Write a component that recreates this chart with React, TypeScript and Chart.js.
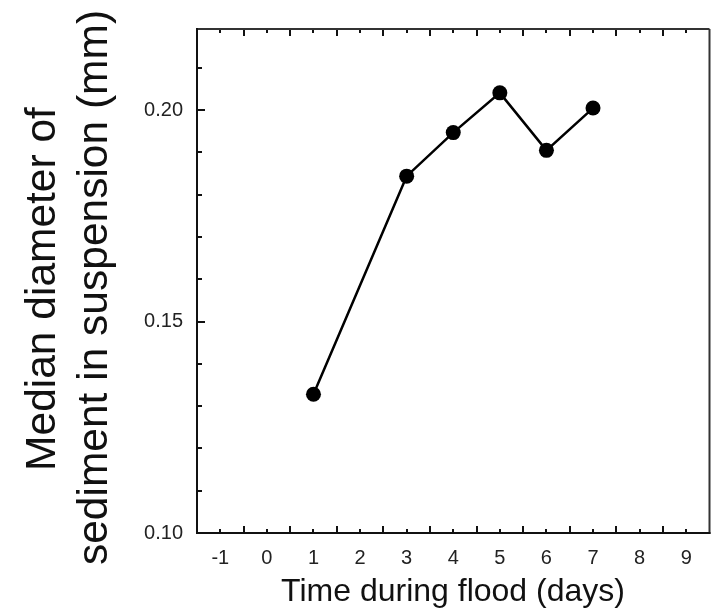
import React, { useEffect, useRef } from "react";
import { Chart, registerables } from "chart.js";

Chart.register(...registerables);

// ---- data ----
const days = [1, 3, 4, 5, 6, 7];
const medianDiameter = [0.1328, 0.1844, 0.1947, 0.2041, 0.1905, 0.2005];

// ---- axes ----
const xTickLabels = [-1, 0, 1, 2, 3, 4, 5, 6, 7, 8, 9];
const xHalfTicks = [-0.5, 0.5, 1.5, 2.5, 3.5, 4.5, 5.5, 6.5, 7.5, 8.5];
const yTickLabels = [0.1, 0.15, 0.2];
const yMinorTicks = [0.11, 0.12, 0.13, 0.14, 0.16, 0.17, 0.18, 0.19, 0.21];
const xMin = -1.5;
const xMax = 9.5;
const yMin = 0.1;
const yMax = 0.2192;

const xAxisTitle = "Time during flood (days)";
const yAxisTitleLines = ["Median diameter of", "sediment in suspension (mm)"];

const FONT = "'Liberation Sans', Arial, Helvetica, sans-serif";

const framePlugin = {
  id: "frameAndTitles",
  beforeDatasetsDraw(chart: any) {
    const { ctx, chartArea, scales } = chart;
    const { left, right, top, bottom } = chartArea;
    const x = scales.x;
    const y = scales.y;
    ctx.save();
    ctx.strokeStyle = "#111";
    ctx.lineWidth = 2;
    const seg = (x1: number, y1: number, x2: number, y2: number) => {
      ctx.beginPath();
      ctx.moveTo(x1, y1);
      ctx.lineTo(x2, y2);
      ctx.stroke();
    };
    for (const v of xTickLabels) {
      const px = Math.round(x.getPixelForValue(v));
      seg(px, bottom, px, bottom - 4);
      seg(px, top, px, top + 4);
    }
    for (const v of xHalfTicks) {
      const px = Math.round(x.getPixelForValue(v));
      seg(px, bottom, px, bottom - 7);
      seg(px, top, px, top + 7);
    }
    for (const v of yTickLabels) {
      const py = Math.round(y.getPixelForValue(v));
      seg(left, py, left + 8, py);
    }
    for (const v of yMinorTicks) {
      const py = Math.round(y.getPixelForValue(v));
      seg(left, py, left + 5, py);
    }
    ctx.strokeStyle = "#333";
    seg(left, top, right, top);
    seg(right, top, right, bottom + 1);
    ctx.strokeStyle = "#111";
    seg(left, top - 1, left, bottom + 1);
    seg(left - 1, bottom, right + 1, bottom);
    ctx.restore();
  },
  afterDraw(chart: any) {
    const { ctx } = chart;
    ctx.save();
    ctx.fillStyle = "#111";
    ctx.font = `32px ${FONT}`;
    ctx.textAlign = "center";
    ctx.textBaseline = "alphabetic";
    ctx.fillText(xAxisTitle, 453, 601);
    ctx.font = `42.5px ${FONT}`;
    const baselines = [54.5, 107];
    const centers = [289, 287.5];
    yAxisTitleLines.forEach((line, i) => {
      ctx.save();
      ctx.translate(baselines[i], centers[i]);
      ctx.rotate(-Math.PI / 2);
      ctx.fillText(line, 0, 0);
      ctx.restore();
    });
    ctx.restore();
  },
};

export default function App() {
  const canvasRef = useRef<HTMLCanvasElement | null>(null);

  useEffect(() => {
    const canvas = canvasRef.current;
    if (!canvas) return;
    const chart = new Chart(canvas, {
      type: "line",
      data: {
        datasets: [
          {
            data: days.map((d, i) => ({ x: d, y: medianDiameter[i] })),
            borderColor: "#000",
            backgroundColor: "#000",
            borderWidth: 2.5,
            pointRadius: 7.5,
            pointBackgroundColor: "#000",
            pointBorderColor: "#000",
            pointBorderWidth: 0,
            tension: 0,
            fill: false,
          },
        ],
      },
      options: {
        responsive: false,
        animation: false,
        devicePixelRatio: 1,
        layout: { padding: { top: 29, right: 2, left: 0, bottom: 0 } },
        plugins: {
          legend: { display: false },
          tooltip: { enabled: false },
          title: { display: false },
        },
        scales: {
          x: {
            type: "linear",
            min: xMin,
            max: xMax,
            afterBuildTicks: (scale: any) => {
              scale.ticks = xTickLabels.map((v) => ({ value: v }));
            },
            afterFit: (scale: any) => {
              scale.height = 77;
              scale.paddingLeft = 0;
              scale.paddingRight = 0;
              scale.paddingTop = 0;
              scale.paddingBottom = 0;
            },
            grid: { display: false, drawTicks: false },
            border: { display: false },
            ticks: {
              padding: 13,
              maxRotation: 0,
              autoSkip: false,
              color: "#222",
              font: { family: FONT, size: 20 },
              callback: (v: any) => String(v),
            },
          },
          y: {
            type: "linear",
            min: yMin,
            max: yMax,
            afterBuildTicks: (scale: any) => {
              scale.ticks = yTickLabels.map((v) => ({ value: v }));
            },
            afterFit: (scale: any) => {
              scale.width = 197;
              scale.paddingLeft = 0;
              scale.paddingRight = 0;
              scale.paddingTop = 0;
              scale.paddingBottom = 0;
            },
            grid: { display: false, drawTicks: false },
            border: { display: false },
            ticks: {
              padding: 14,
              autoSkip: false,
              color: "#222",
              font: { family: FONT, size: 20 },
              callback: (v: any) => Number(v).toFixed(2),
            },
          },
        },
      },
      plugins: [framePlugin],
    });
    return () => chart.destroy();
  }, []);

  return (
    <div style={{ position: "absolute", left: 0, top: 0, width: 717, height: 610, background: "#fff" }}>
      <canvas ref={canvasRef} width={717} height={610} style={{ display: "block" }} />
    </div>
  );
}
